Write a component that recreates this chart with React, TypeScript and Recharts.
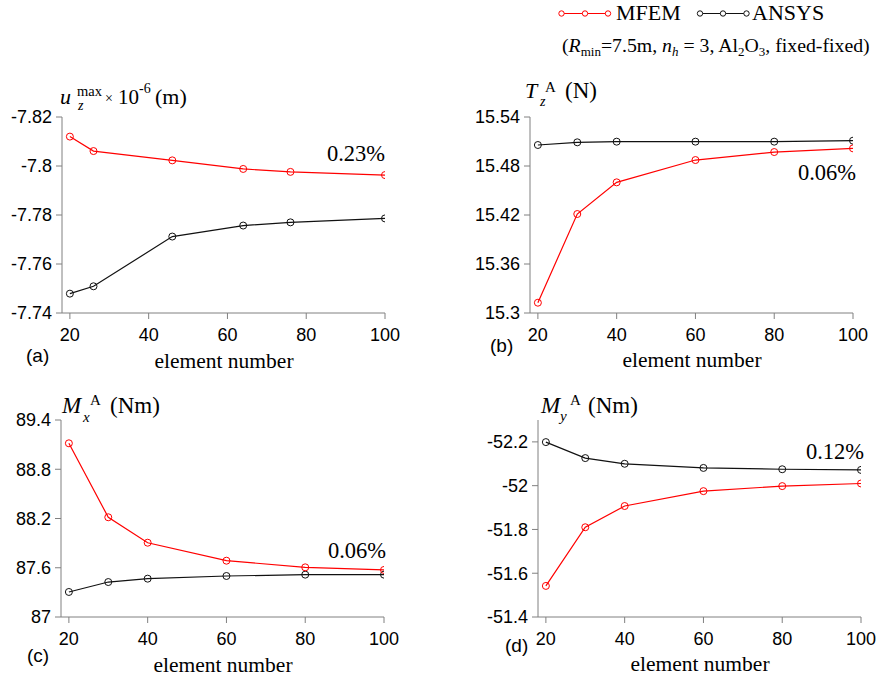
import React from 'react';
import { LineChart, Line, XAxis, YAxis } from 'recharts';

// ---- data ----
const xA = [20, 26, 46, 64, 76, 100];
const mfemA = [-7.812, -7.8061, -7.8023, -7.7988, -7.7976, -7.7963];
const ansysA = [-7.7479, -7.7509, -7.7712, -7.7757, -7.777, -7.7786];
const ticksA = [-7.82, -7.8, -7.78, -7.76, -7.74];

const xB = [20, 30, 40, 60, 80, 100];
const mfemB = [15.3126, 15.4212, 15.46, 15.4873, 15.4971, 15.5016];
const ansysB = [15.5057, 15.509, 15.5098, 15.5098, 15.5098, 15.511];
const ticksB = [15.3, 15.36, 15.42, 15.48, 15.54];

const xC = [20, 30, 40, 60, 80, 100];
const mfemC = [89.116, 88.215, 87.905, 87.686, 87.605, 87.573];
const ansysC = [87.305, 87.426, 87.467, 87.4995, 87.516, 87.516];
const ticksC = [87, 87.6, 88.2, 88.8, 89.4];

const xD = [20, 30, 40, 60, 80, 100];
const mfemD = [-51.542, -51.81, -51.907, -51.975, -51.998, -52.01];
const ansysD = [-52.199, -52.126, -52.1, -52.081, -52.075, -52.072];
const ticksD = [-52.2, -52, -51.8, -51.6, -51.4];

const xTicks = [20, 40, 60, 80, 100];

const rows = (xs: number[], m: number[], a: number[]) =>
  xs.map((x, i) => ({ x, mfem: m[i], ansys: a[i] }));

const W = 878;
const H = 679;
const SANS = 'Liberation Sans, Arial, sans-serif';
const SERIF = 'Liberation Serif, Times New Roman, serif';
const AXIS = '#808080';
const RED = '#ff0000';
const BLACK = '#111111';

type PlotBox = { l: number; t: number; r: number; b: number };

function Panel(props: {
  data: any[];
  domain: [number, number];
  ticks: number[];
  reversed: boolean;
  box: PlotBox;
}) {
  const { data, domain, ticks, reversed, box } = props;
  const yw = 60;
  const xh = 40;
  return (
    <div style={{ position: 'absolute', left: 0, top: 0 }}>
      <LineChart
        width={W}
        height={H}
        data={data}
        margin={{ left: box.l - yw, top: box.t, right: W - box.r, bottom: H - box.b - xh }}
      >
        <XAxis
          type="number"
          dataKey="x"
          domain={[18, 100]}
          ticks={xTicks}
          interval={0}
          allowDataOverflow
          height={xh}
          stroke={AXIS}
          tickSize={6}
          tickMargin={9}
          tick={{ fill: '#000', fontSize: 18, fontFamily: SANS }}
        />
        <YAxis
          type="number"
          domain={domain}
          ticks={ticks}
          interval={0}
          reversed={reversed}
          allowDataOverflow
          width={yw}
          stroke={AXIS}
          tickSize={6}
          tickMargin={4}
          tick={{ fill: '#000', fontSize: 18, fontFamily: SANS }}
        />
        <Line
          type="linear"
          dataKey="ansys"
          stroke={BLACK}
          strokeWidth={1.2}
          dot={{ r: 3.5, fill: 'none', stroke: BLACK, strokeWidth: 1 }}
          isAnimationActive={false}
        />
        <Line
          type="linear"
          dataKey="mfem"
          stroke={RED}
          strokeWidth={1.2}
          dot={{ r: 3.5, fill: 'none', stroke: RED, strokeWidth: 1 }}
          isAnimationActive={false}
        />
      </LineChart>
    </div>
  );
}

function Overlay() {
  const serif = { fontFamily: SERIF, fill: '#000' } as any;
  const sans = { fontFamily: SANS, fill: '#000' } as any;
  return (
    <svg
      width={W}
      height={H}
      style={{ position: 'absolute', left: 0, top: 0, pointerEvents: 'none' }}
    >
      {/* legend */}
      <line x1={559} y1={13.5} x2={608} y2={13.5} stroke={RED} strokeWidth={1.2} />
      {[561.5, 585, 608].map((cx) => (
        <circle key={'r' + cx} cx={cx} cy={13.5} r={2.7} fill="#fff" stroke={RED} strokeWidth={1} />
      ))}
      <text x={616} y={20} fontSize={22} {...serif}>MFEM</text>
      <line x1={698} y1={13.5} x2={747} y2={13.5} stroke={BLACK} strokeWidth={1.2} />
      {[700, 723, 746.5].map((cx) => (
        <circle key={'b' + cx} cx={cx} cy={13.5} r={2.7} fill="#fff" stroke={BLACK} strokeWidth={1} />
      ))}
      <text x={752} y={20} fontSize={22} {...serif}>ANSYS</text>

      {/* subtitle */}
      <text x={562} y={52} fontSize={19.8} {...serif}>
        <tspan>(</tspan>
        <tspan fontStyle="italic">R</tspan>
        <tspan fontSize={13} dy={4}>min</tspan>
        <tspan dy={-4}>=7.5m, </tspan>
        <tspan fontStyle="italic">n</tspan>
        <tspan fontSize={13} fontStyle="italic" dy={4}>h</tspan>
        <tspan dy={-4}> = 3, Al</tspan>
        <tspan fontSize={13} dy={4}>2</tspan>
        <tspan dy={-4}>O</tspan>
        <tspan fontSize={13} dy={4}>3</tspan>
        <tspan dy={-4}>, fixed-fixed)</tspan>
      </text>

      {/* panel (a) title */}
      <text x={60} y={104} fontSize={22} fontStyle="italic" {...serif}>u</text>
      <text x={78} y={110} fontSize={14} fontStyle="italic" {...serif}>z</text>
      <text x={77} y={96} fontSize={14.5} {...serif}>max</text>
      <text x={105} y={103} fontSize={14} {...serif}>×</text>
      <text x={118} y={104} fontSize={21} {...serif}>10</text>
      <text x={139} y={93} fontSize={14} {...serif}>-6</text>
      <text x={155} y={104} fontSize={22} {...serif}>(m)</text>

      {/* panel (b) title */}
      <text x={525} y={98} fontSize={22} fontStyle="italic" {...serif}>T</text>
      <text x={540} y={106} fontSize={14} fontStyle="italic" {...serif}>z</text>
      <text x={545} y={92} fontSize={15} {...serif}>A</text>
      <text x={565} y={98} fontSize={23} {...serif}>(N)</text>

      {/* panel (c) title */}
      <text x={62} y={413} fontSize={23} fontStyle="italic" {...serif}>M</text>
      <text x={83} y={422} fontSize={15} fontStyle="italic" {...serif}>x</text>
      <text x={90} y={405} fontSize={15} {...serif}>A</text>
      <text x={110} y={413} fontSize={23} {...serif}>(Nm)</text>

      {/* panel (d) title */}
      <text x={541} y={413} fontSize={23} fontStyle="italic" {...serif}>M</text>
      <text x={560} y={421} fontSize={15} fontStyle="italic" {...serif}>y</text>
      <text x={570} y={405} fontSize={15} {...serif}>A</text>
      <text x={588} y={413} fontSize={23} {...serif}>(Nm)</text>

      {/* percentage notes */}
      <text x={385} y={161} fontSize={22.5} textAnchor="end" {...serif}>0.23%</text>
      <text x={856} y={180} fontSize={22.5} textAnchor="end" {...serif}>0.06%</text>
      <text x={386} y={558} fontSize={22.5} textAnchor="end" {...serif}>0.06%</text>
      <text x={864} y={459} fontSize={22.5} textAnchor="end" {...serif}>0.12%</text>

      {/* panel letters */}
      <text x={26} y={362} fontSize={19} {...sans}>(a)</text>
      <text x={490} y={352} fontSize={19} {...sans}>(b)</text>
      <text x={27} y={662} fontSize={19} {...sans}>(c)</text>
      <text x={505} y={652} fontSize={19} {...sans}>(d)</text>

      {/* x axis titles */}
      <text x={224} y={368} fontSize={21.5} textAnchor="middle" {...serif}>element number</text>
      <text x={692} y={367} fontSize={21.5} textAnchor="middle" {...serif}>element number</text>
      <text x={223} y={672} fontSize={21.5} textAnchor="middle" {...serif}>element number</text>
      <text x={700} y={671} fontSize={21.5} textAnchor="middle" {...serif}>element number</text>
    </svg>
  );
}

export default function App() {
  return (
    <div style={{ position: 'absolute', left: 0, top: 0, width: W, height: H, background: '#fff' }}>
      <Panel data={rows(xA, mfemA, ansysA)} domain={[-7.82, -7.74]} ticks={ticksA} reversed box={{ l: 62, t: 117, r: 385, b: 313 }} />
      <Panel data={rows(xB, mfemB, ansysB)} domain={[15.3, 15.54]} ticks={ticksB} reversed={false} box={{ l: 530, t: 117, r: 853, b: 313 }} />
      <Panel data={rows(xC, mfemC, ansysC)} domain={[87, 89.4]} ticks={ticksC} reversed={false} box={{ l: 61, t: 420, r: 384, b: 617 }} />
      <Panel data={rows(xD, mfemD, ansysD)} domain={[-52.3, -51.4]} ticks={ticksD} reversed box={{ l: 538, t: 420, r: 861, b: 617 }} />
      <Overlay />
    </div>
  );
}
